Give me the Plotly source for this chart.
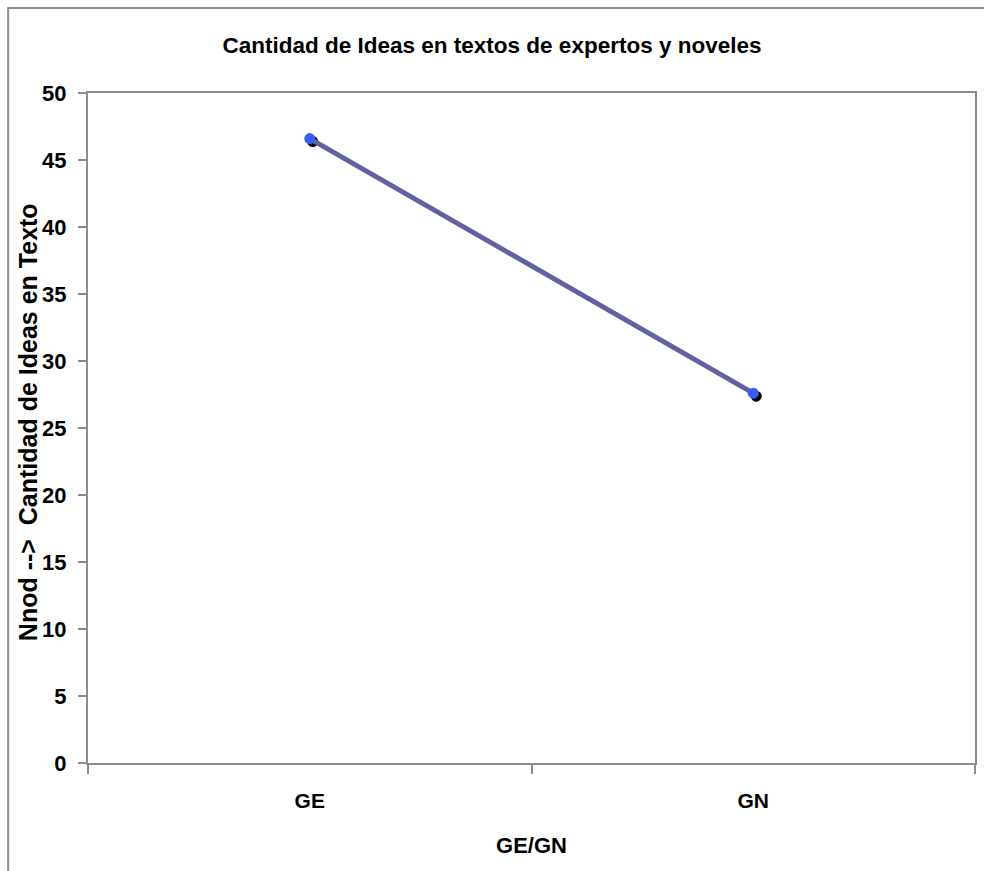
import plotly.graph_objects as go

# Group labels and mean number of ideas per text
grupos = ["GE", "GN"]
ideas = [46.6, 27.6]

y_ticks = [0, 5, 10, 15, 20, 25, 30, 35, 40, 45, 50]

W, H = 984, 871
ML, MR, MT, MB = 88, 7, 93, 108
PW = W - ML - MR
PH = H - MT - MB

GRAY = "#8c8c8c"
FONT = "Liberation Sans, Arial, sans-serif"

fig = go.Figure()

# Invisible trace that anchors the main (visible) axes
fig.add_trace(go.Scatter(
    x=grupos, y=ideas, mode="none", showlegend=False, hoverinfo="skip",
))

# Drop shadow under the markers: same data on overlay axes whose ranges
# are nudged by a few pixels right and down
sx = 3 * 2 / PW
sy = 3 * 50 / PH
fig.add_trace(go.Scatter(
    x=grupos, y=ideas, mode="markers",
    marker=dict(color="black", size=11),
    xaxis="x2", yaxis="y2", showlegend=False, hoverinfo="skip",
))

# Main series, drawn on a third (unshifted) overlay so it sits above the shadow
fig.add_trace(go.Scatter(
    x=grupos, y=ideas, mode="lines+markers",
    line=dict(color="#6262a2", width=5),
    marker=dict(color="#3a5cf0", size=11),
    xaxis="x3", yaxis="y3", showlegend=False,
))


def bold(size):
    return dict(family=FONT, size=size, color="black", weight="bold")


fig.update_layout(
    width=W, height=H,
    margin=dict(l=ML, r=MR, t=MT, b=MB),
    paper_bgcolor="white", plot_bgcolor="white",
    title=dict(
        text="Cantidad de Ideas en textos de expertos y noveles",
        font=bold(22.5),
        x=492 / W, xanchor="center", xref="container",
        y=1 - 45 / H, yanchor="middle", yref="container",
    ),
    xaxis=dict(
        type="category", range=[-0.5, 1.5],
        categoryorder="array", categoryarray=grupos,
        showline=True, linecolor=GRAY, linewidth=2, mirror=True,
        showgrid=False, zeroline=False,
        ticks="outside", ticklen=9, tickcolor=GRAY, tickwidth=2,
        tickson="boundaries", ticklabelstandoff=18,
        tickfont=bold(21),
        title=dict(text="GE/GN", font=bold(22), standoff=26),
    ),
    yaxis=dict(
        range=[0, 50], tickvals=y_ticks,
        showline=True, linecolor=GRAY, linewidth=2, mirror=True,
        showgrid=False, zeroline=False,
        ticks="outside", ticklen=8, tickcolor=GRAY, tickwidth=2,
        ticklabelstandoff=7,
        tickfont=bold(22),
    ),
    xaxis2=dict(
        type="category", range=[-0.5 - sx, 1.5 - sx], overlaying="x",
        categoryorder="array", categoryarray=grupos,
        visible=False, anchor="y2",
    ),
    yaxis2=dict(
        range=[0 + sy, 50 + sy], overlaying="y",
        visible=False, anchor="x2",
    ),
    xaxis3=dict(
        type="category", range=[-0.5, 1.5], overlaying="x",
        categoryorder="array", categoryarray=grupos,
        visible=False, anchor="y3",
    ),
    yaxis3=dict(
        range=[0, 50], overlaying="y",
        visible=False, anchor="x3",
    ),
)

# Vertical y-axis title, placed close against the tick labels
fig.add_annotation(
    text="Nnod -->  Cantidad de Ideas en Texto",
    font=bold(25), textangle=-90, showarrow=False,
    xref="paper", yref="paper",
    x=(28 - ML) / PW, xanchor="center",
    y=(H - MB - 422) / PH, yanchor="middle",
)

# Outer chart-area border
fig.add_shape(
    type="rect", xref="paper", yref="paper",
    x0=(8 - ML) / PW, x1=1.2,
    y0=-0.3, y1=(H - MB - 8) / PH,
    line=dict(color=GRAY, width=2), fillcolor="rgba(0,0,0,0)", layer="below",
)

fig.write_html("out.html")
